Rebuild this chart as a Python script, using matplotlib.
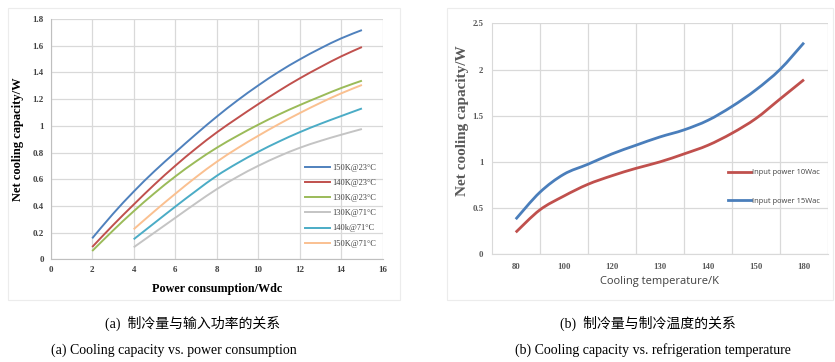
import numpy as np
import matplotlib
matplotlib.use("Agg")
from matplotlib import pyplot as plt
from matplotlib.patches import Rectangle, PathPatch
from matplotlib.path import Path
from matplotlib.lines import Line2D

# (a) net cooling capacity vs power consumption
power_23 = [2, 3, 4, 5, 6, 7, 8, 9, 10, 11, 12, 13, 14, 15]
power_71 = [4, 5, 6, 7, 8, 9, 10, 11, 12, 13, 14, 15]
cap_150k_23 = [0.157, 0.34, 0.507, 0.66, 0.80, 0.937, 1.068, 1.19, 1.302, 1.405, 1.497, 1.58, 1.655, 1.717]
cap_140k_23 = [0.092, 0.255, 0.41, 0.56, 0.70, 0.83, 0.95, 1.058, 1.162, 1.262, 1.355, 1.44, 1.52, 1.59]
cap_130k_23 = [0.062, 0.215, 0.36, 0.495, 0.62, 0.733, 0.835, 0.925, 1.008, 1.085, 1.155, 1.22, 1.283, 1.338]
cap_130k_71 = [0.09, 0.20, 0.31, 0.42, 0.525, 0.618, 0.70, 0.772, 0.835, 0.887, 0.933, 0.976]
cap_140k_71 = [0.15, 0.272, 0.394, 0.512, 0.625, 0.72, 0.805, 0.882, 0.952, 1.015, 1.073, 1.13]
cap_150k_71 = [0.225, 0.36, 0.49, 0.615, 0.73, 0.832, 0.925, 1.013, 1.095, 1.172, 1.243, 1.306]

# (b) net cooling capacity vs cooling temperature (category axis)
temp_labels = ["80", "100", "120", "130", "140", "150", "180"]
temp_pos = [0, 0.5, 1, 1.5, 2, 2.5, 3, 3.5, 4, 4.5, 5, 5.5, 6]
cap_10wac = [0.238, 0.48, 0.63, 0.757, 0.85, 0.93, 1.0, 1.086, 1.18, 1.31, 1.47, 1.68, 1.89]
cap_15wac = [0.38, 0.67, 0.866, 0.974, 1.086, 1.18, 1.27, 1.346, 1.45, 1.60, 1.78, 2.0, 2.29]

serif = ["Liberation Serif", "DejaVu Serif"]
sans = ["Open Sans", "DejaVu Sans"]
cjk = ["Liberation Serif", "Noto Sans CJK SC", "DejaVu Sans"]
grid_c = "#d9d9d9"


def smooth_line(ax, x, y, color, lw):
    # excel-style smoothed line: bezier segments through the points
    p = np.column_stack([x, y]).astype(float)
    verts = [p[0]]
    codes = [Path.MOVETO]
    for i in range(len(p) - 1):
        p0 = p[max(i - 1, 0)]
        p1, p2 = p[i], p[i + 1]
        p3 = p[min(i + 2, len(p) - 1)]
        verts += [p1 + (p2 - p0) / 6, p2 - (p3 - p1) / 6, p2]
        codes += [Path.CURVE4] * 3
    ax.add_patch(PathPatch(Path(verts, codes), fill=False, ec=color, lw=lw,
                           capstyle="butt", joinstyle="round"))
    return Line2D([], [], color=color, lw=lw)


fig = plt.figure(figsize=(8.35, 3.62), dpi=100)

# faint chart-area borders
fig.patches.append(Rectangle((8 / 835, 1 - 300 / 362), (400 - 8) / 835, (300 - 8) / 362,
                             transform=fig.transFigure, fill=False, ec="#ececec", lw=0.8))
fig.patches.append(Rectangle((447 / 835, 1 - 300 / 362), (833 - 447) / 835, (300 - 8) / 362,
                             transform=fig.transFigure, fill=False, ec="#ececec", lw=0.8))

# ---- left chart
ax = fig.add_axes([0.0607, 0.2837, 0.3976, 0.6638])
series_a = [
    (power_23, cap_150k_23, "#4f81bd", "150K@23\u00b0C"),
    (power_23, cap_140k_23, "#c0504d", "140K@23\u00b0C"),
    (power_23, cap_130k_23, "#9bbb59", "130K@23\u00b0C"),
    (power_71, cap_130k_71, "#c4c4c4", "130K@71\u00b0C"),
    (power_71, cap_140k_71, "#4bacc6", "140k@71\u00b0C"),
    (power_71, cap_150k_71, "#fac090", "150K@71\u00b0C"),
]
handles = [smooth_line(ax, x, y, c, 1.4) for x, y, c, _ in series_a]
ax.set_xlim(0, 16)
ax.set_ylim(0, 1.8)
ax.set_xticks(range(0, 17, 2))
ax.set_yticks(np.arange(0, 1.81, 0.2))
ax.set_yticklabels(["0", "0.2", "0.4", "0.6", "0.8", "1", "1.2", "1.4", "1.6", "1.8"])
ax.grid(True, color=grid_c, lw=0.9)
ax.set_axisbelow(True)
for s in ["top", "right"]:
    ax.spines[s].set_visible(False)
for s in ["left", "bottom"]:
    ax.spines[s].set_color("#bfbfbf")
ax.tick_params(length=0, labelsize=6.5, pad=5, colors="#404040")
for t in ax.get_xticklabels() + ax.get_yticklabels():
    t.set_family(serif)
    t.set_weight("bold")
ax.set_xlabel("Power consumption/Wdc", family=serif, weight="bold", fontsize=8.7, labelpad=6)
ax.set_ylabel("Net cooling capacity/W", family=serif, weight="bold", fontsize=9, labelpad=6)
leg = ax.legend(handles, [s[3] for s in series_a], loc="upper left",
                bbox_to_anchor=(0.755, 0.41), frameon=False,
                prop={"family": serif, "size": 6}, handlelength=3.0, labelspacing=0.85,
                handletextpad=0.3, borderaxespad=0)
for t in leg.get_texts():
    t.set_color("#404040")

# ---- right chart
bx = fig.add_axes([0.5889, 0.2975, 0.4027, 0.6381])
h10 = smooth_line(bx, temp_pos, cap_10wac, "#c0504d", 2.0)
h15 = smooth_line(bx, temp_pos, cap_15wac, "#4a7ebb", 2.0)
bx.set_xlim(-0.5, 6.5)
bx.set_ylim(0, 2.5)
bx.set_xticks(range(len(temp_labels)))
bx.set_xticklabels(temp_labels)
bx.set_xticks(np.arange(0.5, 6.6, 1.0), minor=True)
bx.set_yticks([0, 0.5, 1, 1.5, 2, 2.5])
bx.set_yticklabels(["0", "0.5", "1", "1.5", "2", "2.5"])
bx.grid(True, which="minor", axis="x", color=grid_c, lw=0.9)
bx.grid(True, which="major", axis="y", color=grid_c, lw=0.9)
bx.set_axisbelow(True)
for s in ["top", "right"]:
    bx.spines[s].set_visible(False)
for s in ["left", "bottom"]:
    bx.spines[s].set_color("#d9d9d9")
bx.tick_params(which="both", length=0, labelsize=6.3, pad=6, colors="#595959")
for t in bx.get_xticklabels() + bx.get_yticklabels():
    t.set_family(serif)
    t.set_weight("bold")
bx.set_xlabel("Cooling temperature/K", family=sans, fontsize=8, color="#404040", labelpad=4)
bx.set_ylabel("Net cooling capacity/W", family=serif, weight="bold", fontsize=11,
              color="#595959")
bx.yaxis.set_label_coords(-0.068, 0.58)
leg2 = bx.legend([h10, h15], ["Input power 10Wac", "Input power 15Wac"], loc="upper left",
                 bbox_to_anchor=(0.695, 0.382), frameon=False,
                 prop={"family": sans, "size": 5.4}, handlelength=3.0,
                 labelspacing=2.8, handletextpad=0.2, borderaxespad=0)
for t in leg2.get_texts():
    t.set_color("#404040")

# ---- captions
fig.text(193 / 835, 1 - 323 / 362, "(a)  制冷量与输入功率的关系", family=cjk, fontsize=10,
         ha="center", va="center")
fig.text(174 / 835, 1 - 350 / 362, "(a) Cooling capacity vs. power consumption", family=serif,
         fontsize=10, ha="center", va="center")
fig.text(648 / 835, 1 - 323 / 362, "(b)  制冷量与制冷温度的关系", family=cjk, fontsize=10,
         ha="center", va="center")
fig.text(653 / 835, 1 - 350 / 362, "(b) Cooling capacity vs. refrigeration temperature",
         family=serif, fontsize=10, ha="center", va="center")

fig.savefig("out.png", dpi=100)
